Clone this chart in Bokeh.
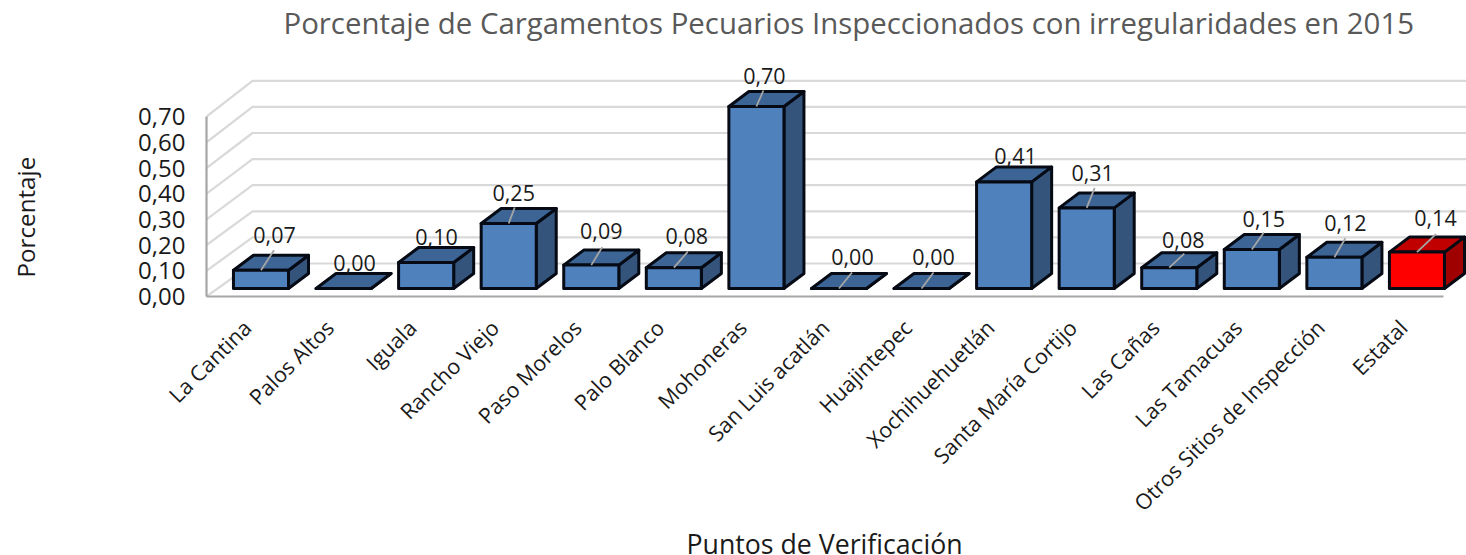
from bokeh.plotting import figure
from bokeh.embed import file_html
from bokeh.resources import INLINE
from bokeh.models import Range1d, LinearAxis, FixedTicker, ColumnDataSource, Title
from bokeh.core.properties import value

TITLE = "Porcentaje de Cargamentos Pecuarios Inspeccionados con irregularidades en 2015"
X_LABEL = "Puntos de Verificación"
Y_LABEL = "Porcentaje"
categories = ["La Cantina", "Palos Altos", "Iguala", "Rancho Viejo", "Paso Morelos", "Palo Blanco",
              "Mohoneras", "San Luis acatlán", "Huajintepec", "Xochihuehuetlán", "Santa María Cortijo",
              "Las Cañas", "Las Tamacuas", "Otros Sitios de Inspección", "Estatal"]
values = [0.07, 0.00, 0.10, 0.25, 0.09, 0.08, 0.70, 0.00, 0.00, 0.41, 0.31, 0.08, 0.15, 0.12, 0.14]
value_ticks = [0.0, 0.1, 0.2, 0.3, 0.4, 0.5, 0.6, 0.7]

# layout (pixels per unit of the scales, and offsets in pixels)
PX_X = 82.57
PX_Y = 260.0
BAR_W = 0.667
DEPTH_X = 20 / PX_X
DEPTH_Y = 15 / PX_Y
label_dx = [13.5, 11, 10.4, 5, 10, 13, 8, 13.5, 12, 11.4, 6, 14, 12, 11, 18.5]
label_dy = [35, 26, 26, 31, 34, 32, 31, 32, 32, 26, 35, 28, 31, 34, 34]
leader_dx = [13, 0, 0, 6, 11, 14, 7, 13, 12, 0, 8, 15, 12, 11, 19]
leader_dy = [20, 0, 0, 16, 18, 16, 16, 16, 16, 0, 20, 14, 17, 19, 18]
TICK_SHIFT = -14 / PX_X
FONT = "Open Sans"
TEXT = "#1a1a1a"

p = figure(frame_width=1260, frame_height=236, output_backend="svg", toolbar_location=None,
           x_range=Range1d(-0.66, 14.6), y_range=Range1d(-8 / PX_Y, 228 / PX_Y),
           min_border_left=206, min_border_right=0, min_border_top=60, min_border_bottom=240,
           x_axis_location=None, y_axis_location=None, outline_line_color=None)
p.xgrid.visible = False
p.ygrid.visible = False

# walls
x_front, x_back, x_end = -0.66, -8.5 / PX_X, 14.6
gx, gy = [], []
for v in value_ticks:
    gx.append([x_front, x_back, x_end])
    front = (257 * v - 8) / PX_Y
    back = (261 * v + 25) / PX_Y
    gy.append([front, back, back])
p.multi_line(gx, gy, line_color="#d9d9d9", line_width=2.2)

# bars
front_x, front_y, top_x, top_y, side_x, side_y, fc, tc, sc = [], [], [], [], [], [], [], [], []
for i, v in enumerate(values):
    l, r = i - BAR_W / 2, i + BAR_W / 2
    front_x.append([l, r, r, l]); front_y.append([0, 0, v, v])
    top_x.append([l, r, r + DEPTH_X, l + DEPTH_X]); top_y.append([v, v, v + DEPTH_Y, v + DEPTH_Y])
    side_x.append([r, r + DEPTH_X, r + DEPTH_X, r]); side_y.append([0, DEPTH_Y, v + DEPTH_Y, v])
    red = categories[i] == "Estatal"
    fc.append("#ff0000" if red else "#4f81bd")
    tc.append("#c00000" if red else "#3c6494")
    sc.append("#9f0000" if red else "#34547c")

style = dict(line_color="#050a14", line_width=3, line_join="round")
p.patches(side_x, side_y, fill_color=sc, **style)
p.patches(top_x, top_y, fill_color=tc, **style)
p.patches(front_x, front_y, fill_color=fc, **style)

# leader lines
lx0, ly0, lx1, ly1 = [], [], [], []
for i, v in enumerate(values):
    if leader_dy[i]:
        lx0.append(i); ly0.append(v)
        lx1.append(i + leader_dx[i] / PX_X); ly1.append(v + leader_dy[i] / PX_Y)
p.segment(lx0, ly0, lx1, ly1, line_color="#a6a6a6", line_width=1.8)

# value labels
src = ColumnDataSource(dict(x=list(range(len(values))), y=values,
                            t=[f"{v:.2f}".replace(".", ",") for v in values],
                            dx=label_dx, dy=[-d for d in label_dy]))
p.text("x", "y", text="t", source=src, x_offset="dx", y_offset="dy", text_align="center",
       text_baseline="middle", text_font=value(FONT), text_font_size="21.5px", text_color=TEXT)

# axes
p.extra_y_ranges = {"axis": Range1d(0, 236 / 257)}
ya = LinearAxis(y_range_name="axis", ticker=FixedTicker(ticks=value_ticks), bounds=(0, 0.7),
                major_label_overrides={v: f"{v:.2f}".replace(".", ",") for v in value_ticks},
                major_label_text_font=FONT, major_label_text_font_size="24px", major_label_text_color=TEXT,
                major_label_standoff=15, major_tick_line_color=None, minor_tick_line_color=None,
                axis_line_color="#a6a6a6", axis_line_width=2.2)
p.add_layout(ya, "left")

x_ticks = [i + TICK_SHIFT for i in range(len(categories))]
xa = LinearAxis(ticker=FixedTicker(ticks=x_ticks), bounds=(-0.66, 14.32),
                major_label_overrides={x: c for x, c in zip(x_ticks, categories)},
                major_label_orientation=0.785398,
                major_label_text_font=FONT, major_label_text_font_size="21.5px", major_label_text_color=TEXT,
                major_label_standoff=21, major_tick_line_color=None, minor_tick_line_color=None,
                axis_line_color="#a6a6a6", axis_line_width=2.2)
p.add_layout(xa, "below")

common = dict(text_font=FONT, text_font_style="normal", align="left")
# blank spacers push the outer titles away from the frame
p.add_layout(Title(text=" ", text_font_size="1px", standoff=15), "above")
p.add_layout(Title(text=" ", text_font_size="1px", standoff=91), "left")
p.add_layout(Title(text=TITLE, text_font_size="29.4px", text_color="#595959", offset=77, standoff=0, **common), "above")
p.add_layout(Title(text=X_LABEL, text_font_size="26.7px", text_color=TEXT, offset=480, standoff=-14, **common), "below")
p.add_layout(Title(text=Y_LABEL, text_font_size="24.2px", text_color=TEXT, offset=19, standoff=0, **common), "left")

open("out.html", "w").write(file_html(p, INLINE))
